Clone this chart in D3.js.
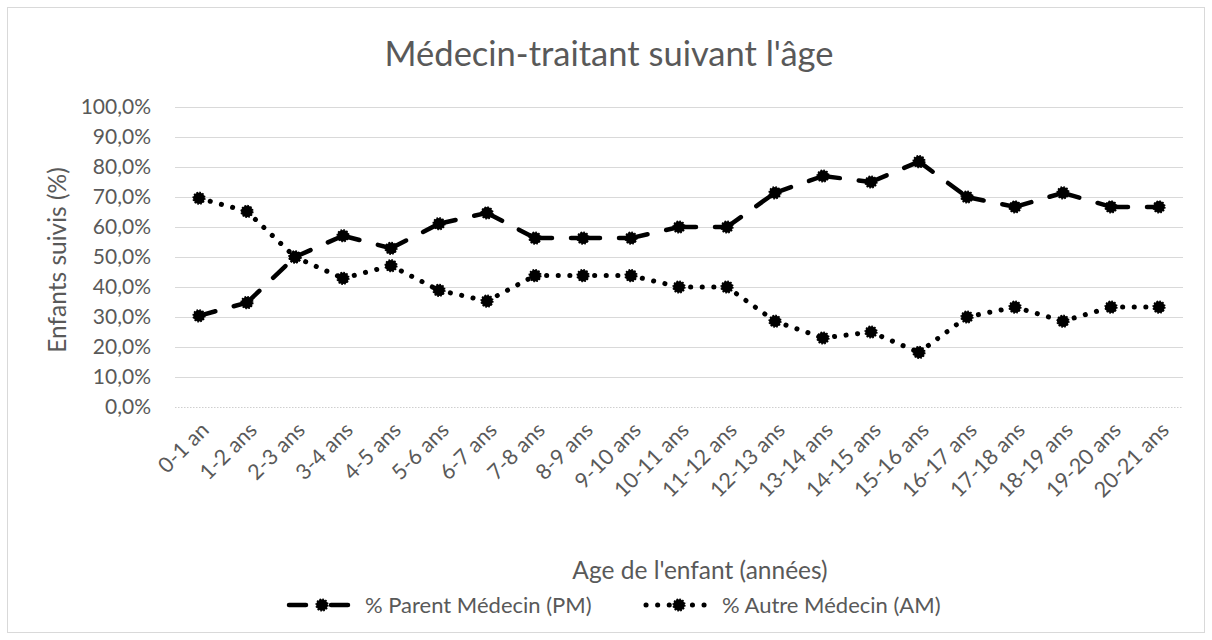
<!DOCTYPE html>
<html>
<head>
<meta charset="utf-8">
<script src="https://cdn.jsdelivr.net/npm/d3@7"></script>
<style>
  body { margin: 0; background: #fff; }
  text { font-family: Lato, 'Open Sans', sans-serif; fill: #595959; }
</style>
</head>
<body>
<script>
const categories = ['0-1 an', '1-2 ans', '2-3 ans', '3-4 ans', '4-5 ans', '5-6 ans', '6-7 ans',
                    '7-8 ans', '8-9 ans', '9-10 ans', '10-11 ans', '11-12 ans', '12-13 ans',
                    '13-14 ans', '14-15 ans', '15-16 ans', '16-17 ans', '17-18 ans', '18-19 ans',
                    '19-20 ans', '20-21 ans'];
const pmValues = [30.4, 34.8, 50, 57.1, 52.9, 61.1, 64.7, 56.3, 56.3, 56.3, 60, 60, 71.4,
                  77, 75, 81.8, 70, 66.7, 71.4, 66.7, 66.7];
const amValues = [69.6, 65.2, 50, 42.9, 47.1, 38.9, 35.3, 43.8, 43.8, 43.8, 40, 40, 28.6,
                  23, 25, 18.2, 30, 33.3, 28.6, 33.3, 33.3];
const yTicks = [0, 10, 20, 30, 40, 50, 60, 70, 80, 90, 100];
const seriesNames = ['% Parent Médecin (PM)', '% Autre Médecin (AM)'];

const width = 1212,
      height = 640;

const frLocale = d3.formatLocale({ decimal: ',', thousands: ' ', grouping: [3], currency: ['', '€'] });
const pct = function(d) { return frLocale.format('.1f')(d) + '%'; };

const svg = d3.select('body')
              .append('svg')
              .attr('width', width)
              .attr('height', height);

// chart border
svg.append('rect')
   .attr('x', 7.5).attr('y', 7.5)
   .attr('width', 1197).attr('height', 625)
   .attr('fill', '#fff')
   .attr('stroke', '#d9d9d9')
   .attr('stroke-width', 1);

const x = d3.scalePoint()
            .domain(categories)
            .range([175, 1183])
            .padding(0.5);

const y = d3.scaleLinear()
            .domain([0, 100])
            .range([407, 107]);

// gridlines
svg.append('g')
   .selectAll('line')
   .data(yTicks.filter(function(d) { return d > 0; }))
   .enter()
   .append('line')
   .attr('x1', 175).attr('x2', 1183)
   .attr('y1', function(d) { return y(d) + 0.5; })
   .attr('y2', function(d) { return y(d) + 0.5; })
   .attr('stroke', '#d9d9d9')
   .attr('stroke-width', 1.2);

// dotted x axis line at 0
svg.append('line')
   .attr('x1', 175).attr('x2', 1183)
   .attr('y1', y(0) + 0.5).attr('y2', y(0) + 0.5)
   .attr('stroke', '#cfcfcf')
   .attr('stroke-width', 1.2)
   .attr('stroke-dasharray', '1.5 1.5');

// y axis labels
const yAxis = svg.append('g')
                 .attr('transform', 'translate(175,0)')
                 .call(d3.axisLeft(y).tickValues(yTicks).tickFormat(pct).tickSize(0).tickPadding(24));
yAxis.select('.domain').remove();
yAxis.selectAll('text')
     .style('font-size', '21px')
     .style('font-family', 'Lato, sans-serif')
     .attr('fill', '#595959');

// x axis labels, rotated
svg.append('g')
   .selectAll('text')
   .data(categories)
   .enter()
   .append('text')
   .attr('transform', function(d) { return 'translate(' + (x(d) + 6) + ',426) rotate(-45)'; })
   .attr('text-anchor', 'end')
   .attr('dy', '0.35em')
   .style('font-size', '21.5px')
   .text(function(d) { return d; });

// title & axis titles
svg.append('text')
   .attr('x', 609).attr('y', 66)
   .attr('text-anchor', 'middle')
   .style('font-size', '34.5px')
   .text('Médecin-traitant suivant l\'âge');

svg.append('text')
   .attr('transform', 'translate(66,260) rotate(-90)')
   .attr('text-anchor', 'middle')
   .style('font-size', '24.5px')
   .text('Enfants suivis (%)');

svg.append('text')
   .attr('x', 700).attr('y', 579)
   .attr('text-anchor', 'middle')
   .style('font-size', '24.5px')
   .text('Age de l\'enfant (années)');

// series
const series = [
  { name: seriesNames[0], values: pmValues, dash: '17 19', width: 4.5 },
  { name: seriesNames[1], values: amValues, dash: '0.1 11.5', width: 5 }
];

series.forEach(function(s) {
  const pts = s.values.map(function(v, i) { return [x(categories[i]), y(v)]; });
  const g = svg.append('g');

  // each segment restarts its dash pattern at the marker
  g.selectAll('line')
   .data(d3.pairs(pts))
   .enter()
   .append('line')
   .attr('x1', function(d) { return d[0][0]; })
   .attr('y1', function(d) { return d[0][1]; })
   .attr('x2', function(d) { return d[1][0]; })
   .attr('y2', function(d) { return d[1][1]; })
   .attr('stroke', '#000')
   .attr('stroke-width', s.width)
   .attr('stroke-linecap', 'round')
   .attr('stroke-dasharray', s.dash);

  g.selectAll('circle')
   .data(pts)
   .enter()
   .append('circle')
   .attr('cx', function(d) { return d[0]; })
   .attr('cy', function(d) { return d[1]; })
   .attr('r', 5.8)
   .attr('fill', '#000')
   .attr('stroke', '#000')
   .attr('stroke-width', 1.6)
   .attr('stroke-dasharray', '1.6 1.4');
});

// legend
const legendY = 605;
const pmLegend = svg.append('g');
pmLegend.append('line')
        .attr('x1', 289).attr('x2', 348)
        .attr('y1', legendY).attr('y2', legendY)
        .attr('stroke', '#000').attr('stroke-width', 4.5)
        .attr('stroke-linecap', 'round')
        .attr('stroke-dasharray', '17 25');
pmLegend.append('circle')
        .attr('cx', 322).attr('cy', legendY).attr('r', 5.8)
        .attr('fill', '#000').attr('stroke', '#000')
        .attr('stroke-width', 1.6).attr('stroke-dasharray', '1.6 1.4');
pmLegend.append('text')
        .attr('x', 365).attr('y', legendY).attr('dy', '0.35em')
        .style('font-size', '22px')
        .text(seriesNames[0]);

const amLegend = svg.append('g');
amLegend.append('line')
        .attr('x1', 646).attr('x2', 708)
        .attr('y1', legendY).attr('y2', legendY)
        .attr('stroke', '#000').attr('stroke-width', 5)
        .attr('stroke-linecap', 'round')
        .attr('stroke-dasharray', '0.1 11.5');
amLegend.append('circle')
        .attr('cx', 679).attr('cy', legendY).attr('r', 5.8)
        .attr('fill', '#000').attr('stroke', '#000')
        .attr('stroke-width', 1.6).attr('stroke-dasharray', '1.6 1.4');
amLegend.append('text')
        .attr('x', 722).attr('y', legendY).attr('dy', '0.35em')
        .style('font-size', '22px')
        .text(seriesNames[1]);
</script>
</body>
</html>
